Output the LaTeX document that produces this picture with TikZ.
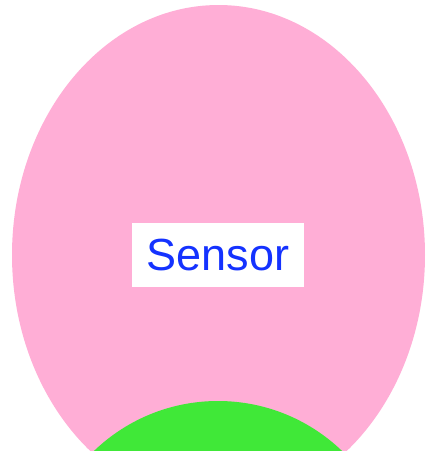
\documentclass[tikz,border=0pt]{standalone}
\usepackage{fontspec}
\setmainfont{Liberation Sans}
\definecolor{pinkfill}{RGB}{255,174,214}
\definecolor{greenfill}{RGB}{64,232,56}
\definecolor{textblue}{RGB}{20,50,255}
\begin{document}
\begin{tikzpicture}[x=1pt,y=-1pt,
  label box/.style={fill=white,text=textblue,inner sep=0pt,minimum width=172pt,minimum height=64pt,font=\fontsize{45}{45}\selectfont}]
\useasboundingbox (0,0) rectangle (427,451);
\clip (0,0) rectangle (427,451);
\fill[white] (0,0) rectangle (427,451);
\fill[pinkfill] (218.5,255) ellipse [x radius=206.5, y radius=250];
\fill[greenfill] (218,580) circle [radius=179];
\node[label box] (sensor) at (218,255) {Sensor};
\end{tikzpicture}
\end{document}
